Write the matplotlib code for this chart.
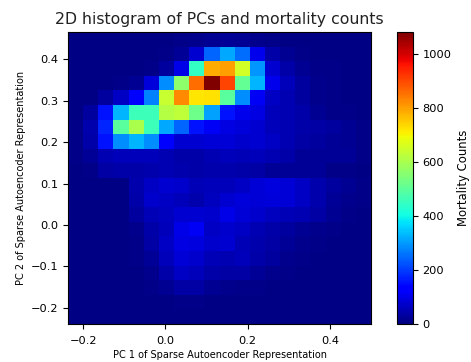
import numpy as np
import matplotlib
matplotlib.use("Agg")
import matplotlib.pyplot as plt

# bin range of the two principal components (20 x 20 bins)
pc1_range = [-0.2365, 0.4996]
pc2_range = [-0.239, 0.466]
n_bins = 20

# mortality counts per bin, first row = highest PC 2 bin, columns = PC 1 bins left to right
counts_top_down = [
    [8, 8, 8, 8, 8, 8, 8, 10, 16, 20, 22, 20, 14, 10, 8, 8, 8, 8, 8, 8],
    [8, 8, 8, 8, 8, 8, 12, 25, 77, 241, 315, 252, 105, 39, 21, 10, 8, 8, 8, 8],
    [8, 8, 8, 8, 8, 12, 30, 100, 444, 789, 801, 654, 294, 77, 39, 21, 12, 10, 8, 8],
    [8, 8, 8, 10, 21, 86, 283, 562, 858, 1081, 904, 509, 326, 105, 58, 30, 14, 10, 8, 8],
    [8, 8, 30, 67, 119, 273, 641, 824, 721, 726, 496, 283, 114, 67, 49, 30, 16, 10, 8, 8],
    [8, 30, 156, 326, 457, 457, 615, 628, 523, 305, 156, 105, 95, 58, 49, 39, 21, 12, 10, 8],
    [11, 44, 177, 496, 601, 457, 315, 241, 156, 110, 95, 86, 77, 58, 49, 39, 35, 30, 21, 10],
    [10, 39, 156, 283, 326, 283, 119, 77, 77, 81, 81, 72, 77, 67, 49, 35, 30, 25, 21, 10],
    [10, 25, 49, 58, 58, 58, 49, 39, 39, 49, 58, 53, 58, 49, 39, 25, 25, 25, 25, 10],
    [8, 12, 35, 39, 39, 44, 49, 44, 39, 44, 44, 39, 35, 25, 25, 25, 25, 12, 10, 8],
    [8, 8, 8, 8, 44, 67, 77, 72, 53, 58, 58, 67, 81, 91, 81, 67, 44, 30, 21, 12],
    [8, 8, 8, 8, 39, 72, 67, 58, 44, 63, 77, 86, 81, 86, 81, 67, 44, 25, 16, 10],
    [8, 8, 8, 8, 30, 53, 63, 77, 77, 72, 100, 81, 72, 63, 53, 49, 35, 21, 10, 8],
    [8, 8, 8, 8, 16, 39, 58, 100, 110, 67, 72, 67, 49, 39, 30, 21, 14, 10, 8, 8],
    [8, 8, 8, 8, 12, 35, 67, 95, 91, 72, 77, 53, 44, 35, 25, 14, 10, 8, 8, 8],
    [8, 8, 8, 8, 10, 25, 58, 81, 72, 53, 49, 58, 39, 30, 14, 10, 8, 8, 8, 8],
    [8, 8, 8, 8, 8, 14, 39, 67, 58, 39, 35, 35, 25, 14, 10, 8, 8, 8, 8, 8],
    [8, 8, 8, 8, 8, 10, 21, 35, 35, 21, 14, 12, 10, 8, 8, 8, 8, 8, 8, 8],
    [6, 6, 6, 6, 6, 6, 8, 10, 10, 8, 6, 6, 6, 6, 6, 6, 6, 6, 6, 6],
    [5, 5, 5, 5, 5, 5, 5, 5, 5, 5, 5, 5, 5, 5, 5, 5, 5, 5, 5, 5],
]

H = np.array(counts_top_down)[::-1]
xedges = np.linspace(pc1_range[0], pc1_range[1], n_bins + 1)
yedges = np.linspace(pc2_range[0], pc2_range[1], n_bins + 1)

fig = plt.figure(figsize=(4.71, 3.62), dpi=100)
ax = fig.add_axes([0.1444, 0.105, 0.6433, 0.8066])
cax = fig.add_axes([0.8429, 0.105, 0.033, 0.8066])

mesh = ax.pcolormesh(xedges, yedges, H, cmap='jet', vmin=0, vmax=H.max())
ax.set_xlim(pc1_range)
ax.set_ylim(pc2_range)
ax.set_xticks([-0.2, 0.0, 0.2, 0.4])
ax.set_yticks([-0.2, -0.1, 0.0, 0.1, 0.2, 0.3, 0.4])
ax.tick_params(labelsize=8.2, length=3.5)
ax.tick_params(axis='x', pad=5)
ax.set_title("2D histogram of PCs and mortality counts", fontsize=11.3, color='#222222')
ax.set_xlabel("PC 1 of Sparse Autoencoder Representation", fontsize=7.0, labelpad=3)
ax.set_ylabel("PC 2 of Sparse Autoencoder Representation", fontsize=7.0, labelpad=3)

cb = fig.colorbar(mesh, cax=cax)
cb.set_ticks([0, 200, 400, 600, 800, 1000])
cb.ax.tick_params(labelsize=8.2, length=3.5)
cb.set_label("Mortality Counts", fontsize=8.4)

fig.savefig("out.png", dpi=100)
